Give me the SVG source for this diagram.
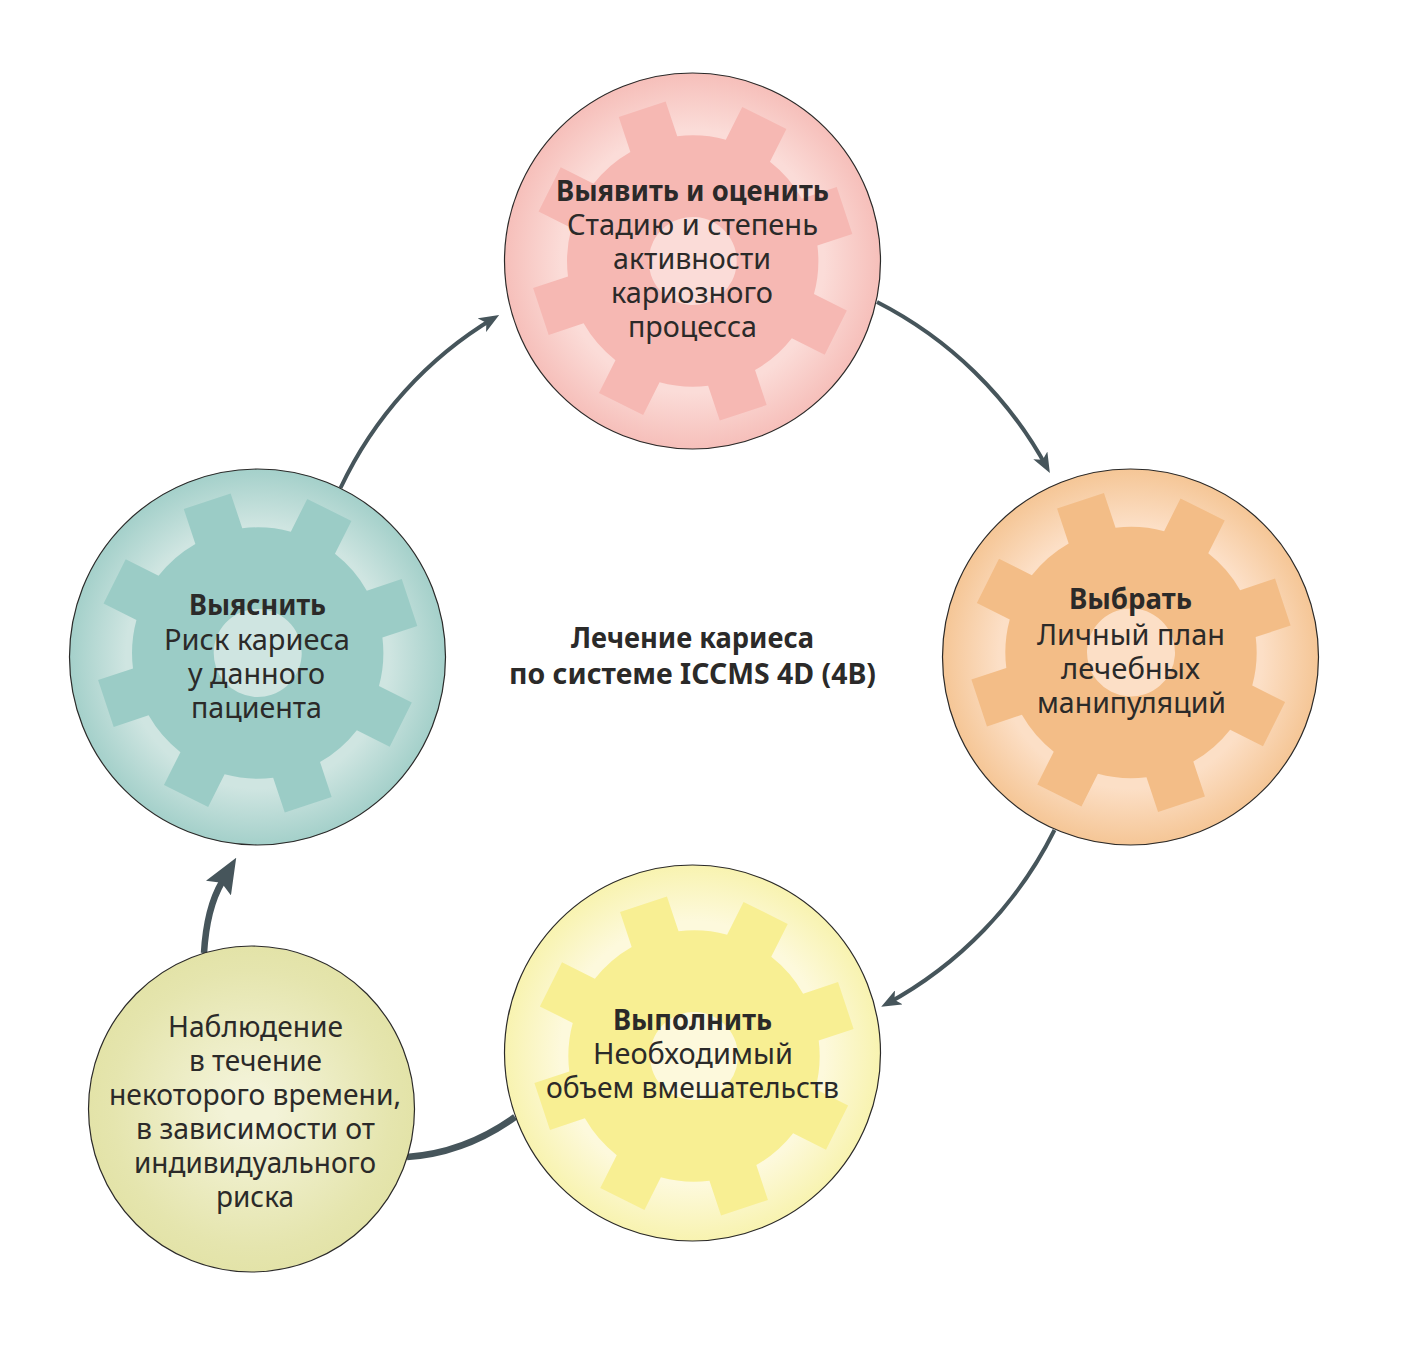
<svg xmlns="http://www.w3.org/2000/svg" xmlns:xlink="http://www.w3.org/1999/xlink" width="1411" height="1349" viewBox="0 0 1411 1349">
<style>
text{font-family:"Noto Sans","Open Sans","Liberation Sans",sans-serif;font-size:29px;fill:#2b2a29;text-anchor:middle}
.b{font-weight:700;font-size:28.500px}
.disc{stroke:#2b2a29;stroke-width:1.2}
.c1{fill:none;stroke:#46555b;stroke-width:4}
.c2{fill:none;stroke:#46555b;stroke-width:6.500}
</style>
<defs>
<radialGradient id="gp"><stop offset="0.7" stop-color="#fbdcd8"/><stop offset="1" stop-color="#f6bfba"/></radialGradient>
<radialGradient id="gt"><stop offset="0.7" stop-color="#cfe5e1"/><stop offset="1" stop-color="#a4d0ca"/></radialGradient>
<radialGradient id="go"><stop offset="0.7" stop-color="#fcdfc6"/><stop offset="1" stop-color="#f5c696"/></radialGradient>
<radialGradient id="gy"><stop offset="0.7" stop-color="#fdf9dc"/><stop offset="1" stop-color="#f8f3b0"/></radialGradient>
<radialGradient id="gg"><stop offset="0.15" stop-color="#f3f3d8"/><stop offset="0.85" stop-color="#e5e5ae"/><stop offset="1" stop-color="#e3e3a8"/></radialGradient>
<path id="gear" fill-rule="evenodd" d="M-24.7-123.2V-160H24.7V-123.200A125.700 125.700 0 0 1 69.7-104.6L95.67-130.6 130.6-95.67 104.6-69.7A125.700 125.700 0 0 1 123.2-24.7H160V24.7H123.200A125.700 125.700 0 0 1 104.6 69.7L130.6 95.67 95.67 130.6 69.7 104.600A125.700 125.700 0 0 1 24.7 123.2V160H-24.7V123.200A125.700 125.700 0 0 1-69.7 104.6L-95.67 130.6-130.6 95.67-104.6 69.7A125.700 125.700 0 0 1-123.2 24.7H-160V-24.7H-123.200A125.700 125.700 0 0 1-104.6-69.7L-130.6-95.67-95.67-130.6-69.7-104.6A125.700 125.700 0 0 1-24.7-123.200ZM44 0A44 44 0 1 0-44 0 44 44 0 1 0 44 0Z"/>
<marker id="ah" markerUnits="userSpaceOnUse" markerWidth="20" markerHeight="16" refX="14" refY="8" viewBox="0 0 20 16" orient="auto"><path d="M20 8 0 0 5 8 0 16Z" fill="#46555b"/></marker>
<marker id="ahb" markerUnits="userSpaceOnUse" markerWidth="35" markerHeight="29" refX="7" refY="14.500" viewBox="0 0 35 29" orient="auto"><path d="M35 14.500 0 0 6 14.500 0 29Z" fill="#46555b"/></marker>
</defs>
<g id="connectors">
<path class="c1" marker-end="url(#ah)" d="M877 302A400 400 0 0 1 1047 467.700"/>
<path class="c1" marker-end="url(#ah)" d="M1054.500 830A400 400 0 0 1 886.500 1004"/>
<path class="c1" marker-end="url(#ah)" d="M340.500 488A392 392 0 0 1 494 318"/>
<path class="c2" d="M407 1157Q465 1153 515 1117"/>
<path class="c2" marker-end="url(#ahb)" d="M204 953Q206.700 908 222 882"/>
</g>
<g id="node-identify">
<circle class="disc" cx="692.500" cy="261" r="188" fill="url(#gp)"/>
<use xlink:href="#gear" href="#gear" transform="translate(692.700 261) rotate(-18.4)" fill="#f6b8b3"/>
<text class="b" x="692.500" y="201" textLength="273" lengthAdjust="spacingAndGlyphs">Выявить и оценить</text>
<text x="692.500" y="235" textLength="251" lengthAdjust="spacingAndGlyphs">Стадию и степень</text>
<text x="692" y="269" textLength="158" lengthAdjust="spacingAndGlyphs">активности</text>
<text x="692" y="303" textLength="162" lengthAdjust="spacingAndGlyphs">кариозного</text>
<text x="692.500" y="337" textLength="129" lengthAdjust="spacingAndGlyphs">процесса</text>
</g>
<g id="node-choose">
<circle class="disc" cx="1130.500" cy="657" r="188" fill="url(#go)"/>
<use xlink:href="#gear" href="#gear" transform="translate(1131 652.500) rotate(-18.4)" fill="#f3bd87"/>
<text class="b" x="1130.500" y="609" textLength="123" lengthAdjust="spacingAndGlyphs">Выбрать</text>
<text x="1131" y="645" textLength="188" lengthAdjust="spacingAndGlyphs">Личный план</text>
<text x="1130.500" y="679" textLength="139" lengthAdjust="spacingAndGlyphs">лечебных</text>
<text x="1131.500" y="713" textLength="189" lengthAdjust="spacingAndGlyphs">манипуляций</text>
</g>
<g id="node-perform">
<circle class="disc" cx="692.500" cy="1053" r="188" fill="url(#gy)"/>
<use xlink:href="#gear" href="#gear" transform="translate(694 1056) rotate(-18.4)" fill="#f8ef93"/>
<text class="b" x="692.500" y="1030" textLength="159" lengthAdjust="spacingAndGlyphs">Выполнить</text>
<text x="693" y="1064" textLength="200" lengthAdjust="spacingAndGlyphs">Необходимый</text>
<text x="692.500" y="1098" textLength="293" lengthAdjust="spacingAndGlyphs">объем вмешательств</text>
</g>
<g id="node-clarify">
<circle class="disc" cx="257.500" cy="657" r="188" fill="url(#gt)"/>
<use xlink:href="#gear" href="#gear" transform="translate(257.700 653) rotate(-18.4)" fill="#9bccc6"/>
<text class="b" x="257.500" y="615" textLength="137" lengthAdjust="spacingAndGlyphs">Выяснить</text>
<text x="257" y="650" textLength="186" lengthAdjust="spacingAndGlyphs">Риск кариеса</text>
<text x="256.500" y="684" textLength="137" lengthAdjust="spacingAndGlyphs">у данного</text>
<text x="256.500" y="718" textLength="131" lengthAdjust="spacingAndGlyphs">пациента</text>
</g>
<g id="node-observe">
<circle class="disc" cx="251.500" cy="1109" r="163" fill="url(#gg)"/>
<text x="255.500" y="1037" textLength="175" lengthAdjust="spacingAndGlyphs">Наблюдение</text>
<text x="255.500" y="1071" textLength="133" lengthAdjust="spacingAndGlyphs">в течение</text>
<text x="255" y="1105" textLength="292" lengthAdjust="spacingAndGlyphs">некоторого времени,</text>
<text x="255.500" y="1139" textLength="239" lengthAdjust="spacingAndGlyphs">в зависимости от</text>
<text x="255" y="1173" textLength="242" lengthAdjust="spacingAndGlyphs">индивидуального</text>
<text x="255" y="1207" textLength="78" lengthAdjust="spacingAndGlyphs">риска</text>
</g>
<g id="title">
<text class="b" x="692.500" y="648" textLength="243" lengthAdjust="spacingAndGlyphs">Лечение кариеса</text>
<text class="b" x="692.500" y="684" textLength="367" lengthAdjust="spacingAndGlyphs">по системе ICCMS 4D (4В)</text>
</g>
</svg>
